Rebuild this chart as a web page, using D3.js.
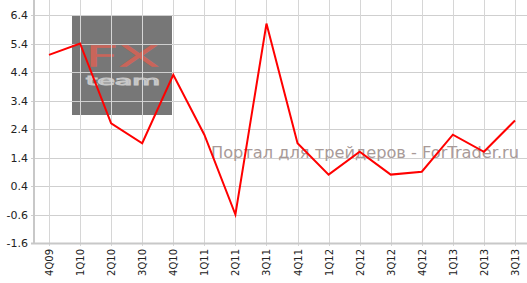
<!DOCTYPE html>
<html><head><meta charset="utf-8">
<script src="https://cdn.jsdelivr.net/npm/d3@7"></script>
<style>body{margin:0;background:#fff}svg{display:block}</style>
</head><body>
<script>
const categories = ["4Q09","1Q10","2Q10","3Q10","4Q10","1Q11","2Q11","3Q11","4Q11","1Q12","2Q12","3Q12","4Q12","1Q13","2Q13","3Q13"];
const values = [5.0,5.4,2.6,1.9,4.3,2.2,-0.6,6.1,1.9,0.8,1.6,0.8,0.9,2.2,1.6,2.7];
const yTicks = [-1.6,-0.6,0.4,1.4,2.4,3.4,4.4,5.4,6.4];

const W = 527, H = 283;
const svg = d3.select("body").append("svg").attr("width", W).attr("height", H);
const x = d3.scalePoint().domain(categories).range([49, 515]);
const y = d3.scaleLinear().domain([-1.6, 6.4]).range([243, 15]);
const axisX = 34;

// watermark box
svg.append("rect").attr("x", 72).attr("y", 15).attr("width", 100).attr("height", 100).attr("fill", "#777");
svg.append("text").attr("x", 122).attr("y", 66).attr("text-anchor", "middle")
  .attr("font-family", "DejaVu Sans").attr("font-size", 27).attr("font-weight", "200")
  .attr("fill", "none").attr("stroke", "#c9655a").attr("stroke-width", 1.5)
  .attr("textLength", 74).attr("lengthAdjust", "spacingAndGlyphs").text("FX");
svg.append("text").attr("x", 123).attr("y", 85).attr("text-anchor", "middle")
  .attr("font-family", "DejaVu Sans").attr("font-size", 12)
  .attr("fill", "none").attr("stroke", "#c8c8c8").attr("stroke-width", 1)
  .attr("textLength", 74).attr("lengthAdjust", "spacingAndGlyphs").text("team");

// grid
svg.append("g").selectAll("line").data(yTicks).join("line")
  .attr("x1", axisX - 3).attr("x2", W).attr("y1", d => Math.round(y(d)) + 0.5).attr("y2", d => Math.round(y(d)) + 0.5)
  .attr("stroke", "#cfcfcf").attr("stroke-width", 1);
svg.append("g").selectAll("line").data(categories).join("line")
  .attr("y1", 0).attr("y2", 246).attr("x1", d => Math.round(x(d)) + 0.5).attr("x2", d => Math.round(x(d)) + 0.5)
  .attr("stroke", "#d6d6d6").attr("stroke-width", 1);

// axes lines
svg.append("line").attr("x1", axisX).attr("x2", axisX).attr("y1", 0).attr("y2", 244).attr("stroke", "#c8c8c8").attr("stroke-width", 2);
svg.append("line").attr("x1", axisX - 3).attr("x2", W).attr("y1", 243.5).attr("y2", 243.5).attr("stroke", "#c8c8c8").attr("stroke-width", 2);

// y labels
svg.append("g").selectAll("text").data(yTicks).join("text")
  .attr("x", 28).attr("y", d => y(d) + 4).attr("text-anchor", "end")
  .attr("font-family", "Verdana, DejaVu Sans").attr("font-size", 11).attr("fill", "#222")
  .text(d => d.toFixed(1));

// x labels
svg.append("g").selectAll("text").data(categories).join("text")
  .attr("transform", d => `translate(${x(d) + 4},249) rotate(-90)`)
  .attr("text-anchor", "end")
  .attr("font-family", "Verdana, DejaVu Sans").attr("font-size", 10).attr("fill", "#222")
  .text(d => d);

// watermark text
svg.append("text").attr("x", 211).attr("y", 158)
  .attr("font-family", "DejaVu Sans").attr("font-size", 16).attr("fill", "#a89a98")
  .attr("textLength", 308).attr("lengthAdjust", "spacingAndGlyphs")
  .text("Портал для трейдеров - ForTrader.ru");

// line
svg.append("path").datum(values.map((v, i) => [categories[i], v]))
  .attr("fill", "none").attr("stroke", "#ff0000").attr("stroke-width", 2)
  .attr("d", d3.line().x(d => x(d[0])).y(d => y(d[1])));
</script>
</body></html>
